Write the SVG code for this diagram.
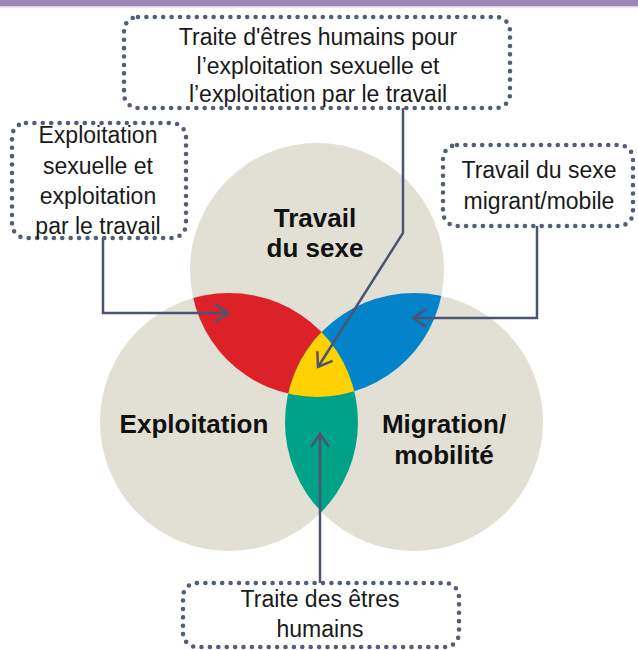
<svg xmlns="http://www.w3.org/2000/svg" width="638" height="650" viewBox="0 0 638 650">
  <style>
    .circle { fill: #e2e0d4; }
    .box { fill: #ffffff; stroke: #525d78; stroke-width: 4.6; stroke-dasharray: 0 8.4; stroke-linecap: round; }
    .lbl { font-family: "Liberation Sans", Arial, sans-serif; font-size: 23px; fill: #1a1a1a; text-anchor: middle; }
    .big { font-family: "Liberation Sans", Arial, sans-serif; font-size: 26px; font-weight: bold; fill: #111111; text-anchor: middle; }
    .conn { fill: none; stroke: #4b5573; stroke-width: 2.5; }
  </style>
  <defs>
    <marker id="chev" markerUnits="userSpaceOnUse" markerWidth="30" markerHeight="30" refX="0" refY="0" viewBox="-16 -15 30 30" orient="auto" overflow="visible">
      <path d="M-13,-9 L0,0 L-13,9" fill="none" stroke="#4b5573" stroke-width="2.5" stroke-linejoin="miter"/>
    </marker>
    <clipPath id="clipTop"><circle cx="317" cy="270" r="127"/></clipPath>
    <clipPath id="clipLeft"><circle cx="229" cy="422" r="129"/></clipPath>
    <clipPath id="clipRight"><circle cx="414" cy="422" r="129"/></clipPath>
  </defs>

  <!-- header band -->
  <rect x="0" y="0" width="638" height="6" fill="#9b86b5"/>
  <rect x="0" y="6" width="638" height="1.5" fill="#d9d0e4"/>

  <!-- three circles -->
  <g id="circles">
    <circle class="circle" cx="317" cy="270" r="127"/>
    <circle class="circle" cx="229" cy="422" r="129"/>
    <circle class="circle" cx="414" cy="422" r="129"/>
  </g>

  <!-- pairwise overlaps, then the triple overlap on top -->
  <g id="overlaps">
    <circle cx="229" cy="422" r="129" fill="#dd2129" clip-path="url(#clipTop)"/>
    <circle cx="414" cy="422" r="129" fill="#0383c9" clip-path="url(#clipTop)"/>
    <circle cx="414" cy="422" r="129" fill="#00a287" clip-path="url(#clipLeft)"/>
    <g clip-path="url(#clipTop)">
      <circle cx="414" cy="422" r="129" fill="#ffd100" clip-path="url(#clipLeft)"/>
    </g>
  </g>

  <!-- circle titles -->
  <g id="node-travail">
    <text class="big" x="315" y="227">Travail</text>
    <text class="big" x="315" y="257">du sexe</text>
  </g>
  <g id="node-exploitation">
    <text class="big" x="194" y="433">Exploitation</text>
  </g>
  <g id="node-migration">
    <text class="big" x="444" y="433">Migration/</text>
    <text class="big" x="444" y="464">mobilité</text>
  </g>

  <!-- connectors -->
  <g id="connectors">
    <polyline class="conn" points="403,108 403,233 318,367" marker-end="url(#chev)"/>
    <polyline class="conn" points="103,238 103,313 228,313" marker-end="url(#chev)"/>
    <polyline class="conn" points="537,226 537,318 413,318" marker-end="url(#chev)"/>
    <polyline class="conn" points="320,583 320,434" marker-end="url(#chev)"/>
  </g>

  <!-- callout boxes -->
  <g id="box-traite-exploitation">
    <rect class="box" x="124" y="17" width="386" height="91" rx="14"/>
    <text class="lbl" x="318" y="45" font-size="24">Traite d'êtres humains pour</text>
    <text class="lbl" x="318" y="74" font-size="24">l’exploitation sexuelle et</text>
    <text class="lbl" x="318" y="102" font-size="24">l’exploitation par le travail</text>
  </g>
  <g id="box-exploitation">
    <rect class="box" x="12" y="123" width="174" height="115" rx="14"/>
    <text class="lbl" x="98" y="143">Exploitation</text>
    <text class="lbl" x="98" y="174">sexuelle et</text>
    <text class="lbl" x="98" y="204">exploitation</text>
    <text class="lbl" x="98" y="234">par le travail</text>
  </g>
  <g id="box-travail-migrant">
    <rect class="box" x="443" y="145" width="190" height="81" rx="14"/>
    <text class="lbl" x="539" y="178">Travail du sexe</text>
    <text class="lbl" x="539" y="209">migrant/mobile</text>
  </g>
  <g id="box-traite">
    <rect class="box" x="183" y="583" width="276" height="64" rx="14"/>
    <text class="lbl" x="320" y="607">Traite des êtres</text>
    <text class="lbl" x="320" y="637">humains</text>
  </g>
</svg>
